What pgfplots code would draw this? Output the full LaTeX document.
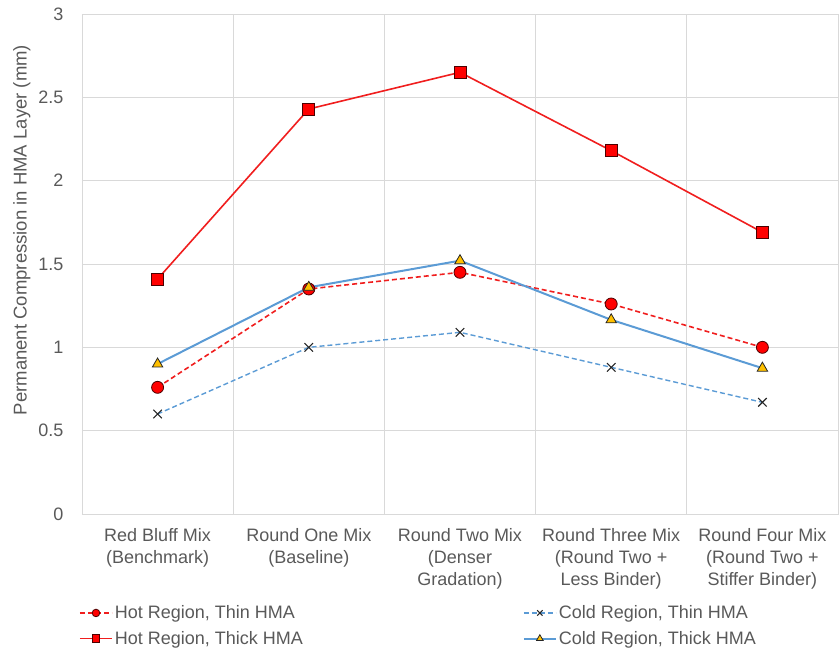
\documentclass[border=0pt]{standalone}
\usepackage{fontspec}
\setmainfont{Liberation Sans}
\usepackage{pgfplots}
\pgfplotsset{compat=1.18}
\definecolor{txt}{HTML}{595959}
\definecolor{gridc}{HTML}{D9D9D9}
\definecolor{hred}{HTML}{F01E1E}
\definecolor{cblue}{HTML}{5B9BD5}
\definecolor{gold}{HTML}{FFC000}
\begin{document}
\begin{tikzpicture}
\begin{axis}[
  scale only axis, width=756pt, height=500pt,
  xmin=-0.5, xmax=4.5, ymin=0, ymax=3,
  xtick={0,1,2,3,4},
  xticklabels={{Red Bluff Mix\\(Benchmark)},{Round One Mix\\(Baseline)},{Round Two Mix\\(Denser\\Gradation)},{Round Three Mix\\(Round Two +\\Less Binder)},{Round Four Mix\\(Round Two +\\Stiffer Binder)}},
  xticklabel style={align=center, font=\fontsize{18}{22}\selectfont, text=txt, yshift=-11pt},
  minor xtick={-0.5,0.5,1.5,2.5,3.5,4.5},
  xminorgrids, ymajorgrids,
  ytick={0,0.5,1,1.5,2,2.5,3},
  yticklabel style={font=\fontsize{18}{20}\selectfont, text=txt, xshift=-15pt},
  /pgf/number format/assume math mode=true,
  major tick length=0pt, minor tick length=0pt,
  grid style={gridc, line width=0.8pt},
  minor grid style={gridc, line width=0.8pt},
  axis line style={gridc, line width=0.8pt},
  ylabel={Permanent Compression in HMA Layer (mm)},
  ylabel style={font=\fontsize{18.5}{20}\selectfont, text=txt, at={(axis description cs:-0.0794,0.568)}, anchor=center},
  legend columns=2,
  legend style={at={(axis description cs:0,-0.175)}, xshift=-6pt, anchor=north west, draw=none, fill=none,
    font=\fontsize{18}{20}\selectfont, text=txt, row sep=7pt,
    /tikz/column 2/.style={column sep=218pt}},
  legend cell align=left,
  legend image code/.code={\draw[#1, mark size=3.8pt, mark repeat=2, mark phase=2] plot coordinates {(0pt,0pt) (16pt,0pt) (32pt,0pt)};},
]
\addplot[hred, line width=1.6pt, dash pattern=on 5pt off 3pt, mark=*, mark size=6pt, mark options={solid, fill=red, draw=black!70!red, line width=0.8pt}]
  coordinates {(0,0.76) (1,1.35) (2,1.45) (3,1.26) (4,1.00)};
\addlegendentry{Hot Region, Thin HMA}
\addplot[cblue, line width=1.4pt, dash pattern=on 5pt off 3pt, mark=x, mark size=6pt, mark options={solid, draw=black!85, line width=1.1pt}]
  coordinates {(0,0.60) (1,1.00) (2,1.09) (3,0.88) (4,0.67)};
\addlegendentry{Cold Region, Thin HMA}
\addplot[hred, line width=1.6pt, mark=square*, mark size=6pt, mark options={fill=red, draw=black!70!red, line width=0.8pt}]
  coordinates {(0,1.41) (1,2.43) (2,2.65) (3,2.18) (4,1.69)};
\addlegendentry{Hot Region, Thick HMA}
\addplot[cblue, line width=2pt, mark=triangle*, mark size=6pt, mark options={fill=gold, draw=black!85, line width=0.8pt}]
  coordinates {(0,0.90) (1,1.36) (2,1.52) (3,1.165) (4,0.875)};
\addlegendentry{Cold Region, Thick HMA}
\end{axis}
\useasboundingbox (-82pt,-136pt) rectangle (757pt,514pt);
\end{tikzpicture}
\end{document}
